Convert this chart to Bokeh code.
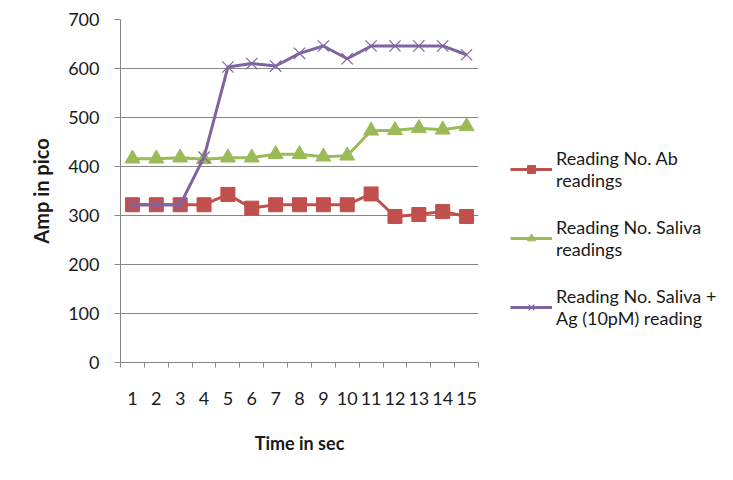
from bokeh.plotting import figure
from bokeh.layouts import row
from bokeh.models import FixedTicker, Legend, LegendItem, Range1d
from bokeh.embed import file_html
from bokeh.resources import INLINE

time_sec = list(range(1, 16))
ab_readings = [322, 322, 322, 322, 343, 315, 322, 322, 322, 322, 344, 298, 302, 308, 298]
saliva_readings = [416, 416, 418, 415, 418, 418, 425, 425, 420, 422, 473, 474, 478, 475, 482]
saliva_ag_readings = [322, 322, 322, 419, 603, 610, 605, 631, 646, 620, 646, 646, 646, 646, 628]
y_ticks = [0, 100, 200, 300, 400, 500, 600, 700]

labels = ["Reading No. Ab\nreadings", "Reading No. Saliva\nreadings", "Reading No. Saliva +\nAg (10pM) reading"]
colors = ["#C0504D", "#9BBB59", "#8064A2"]
FONT = "Lato"
GRAY = "#868686"
TXT = "#1a1a1a"

p = figure(width=490, height=480, output_backend="svg", toolbar_location=None,
           x_range=Range1d(0.5, 15.5), y_range=Range1d(0, 700),
           min_border_left=120, min_border_right=12, min_border_top=19, min_border_bottom=118)
p.outline_line_color = None
p.background_fill_color = "white"

p.xgrid.grid_line_color = None
p.ygrid.grid_line_color = GRAY
p.ygrid.grid_line_width = 1
p.ygrid.ticker = FixedTicker(ticks=y_ticks)

p.xaxis.ticker = FixedTicker(ticks=time_sec, minor_ticks=[i + 0.5 for i in range(0, 16)])
p.xaxis.major_tick_line_color = None
p.xaxis.minor_tick_line_color = GRAY
p.xaxis.minor_tick_out = 5
p.xaxis.minor_tick_in = 0
p.xaxis.axis_line_color = GRAY
p.xaxis.major_label_standoff = 23
p.xaxis.major_label_text_font = FONT
p.xaxis.major_label_text_font_size = "18px"
p.xaxis.major_label_text_color = TXT
p.xaxis.axis_label = "Time in sec"
p.xaxis.axis_label_text_font = FONT
p.xaxis.axis_label_text_font_style = "bold"
p.xaxis.axis_label_text_font_size = "18px"
p.xaxis.axis_label_standoff = 24
p.xaxis.axis_label_text_color = TXT

p.yaxis.ticker = FixedTicker(ticks=y_ticks)
p.yaxis.minor_tick_line_color = None
p.yaxis.major_tick_line_color = GRAY
p.yaxis.major_tick_out = 6
p.yaxis.major_tick_in = 0
p.yaxis.axis_line_color = GRAY
p.yaxis.major_label_standoff = 15
p.yaxis.major_label_text_font = FONT
p.yaxis.major_label_text_font_size = "18px"
p.yaxis.major_label_text_color = TXT
p.yaxis.axis_label = "Amp in pico"
p.yaxis.axis_label_text_font = FONT
p.yaxis.axis_label_text_font_style = "bold"
p.yaxis.axis_label_text_font_size = "20px"
p.yaxis.axis_label_standoff = 12
p.yaxis.axis_label_text_color = TXT

series = [ab_readings, saliva_readings, saliva_ag_readings]


def draw(fig, i):
    ln = fig.line(time_sec, series[i], line_color=colors[i], line_width=3)
    if i == 0:
        mk = fig.scatter(time_sec, series[i], marker="square", size=14, fill_color=colors[i], line_color=colors[i])
    elif i == 1:
        mk = fig.scatter(time_sec, series[i], marker="triangle", size=15, fill_color=colors[i], line_color=colors[i])
    else:
        mk = fig.scatter(time_sec, series[i], marker="x", size=16, line_color=colors[i], line_width=1.2)
    return [ln, mk]


for i in range(3):
    draw(p, i)

# legend panel: same series, drawn in a view window that shows none of them
lg = figure(width=243, height=480, output_backend="svg", toolbar_location=None,
            x_range=Range1d(-1000, -999), y_range=Range1d(-1000, -999),
            x_axis_type=None, y_axis_type=None, min_border=0)
lg.outline_line_color = None
lg.xgrid.visible = False
lg.ygrid.visible = False
items = [LegendItem(label=labels[i], renderers=draw(lg, i)) for i in range(3)]
legend = Legend(items=items, location=(20, 33))
legend.border_line_color = None
legend.background_fill_alpha = 0
legend.label_text_font = FONT
legend.label_text_font_size = "18px"
legend.label_text_line_height = 1.5
legend.label_text_color = TXT
legend.glyph_width = 42
legend.label_standoff = 4
legend.spacing = 25
legend.padding = 2
legend.margin = 0
lg.add_layout(legend, "center")

layout = row(p, lg, spacing=0)
open("out.html", "w").write(file_html(layout, INLINE))
